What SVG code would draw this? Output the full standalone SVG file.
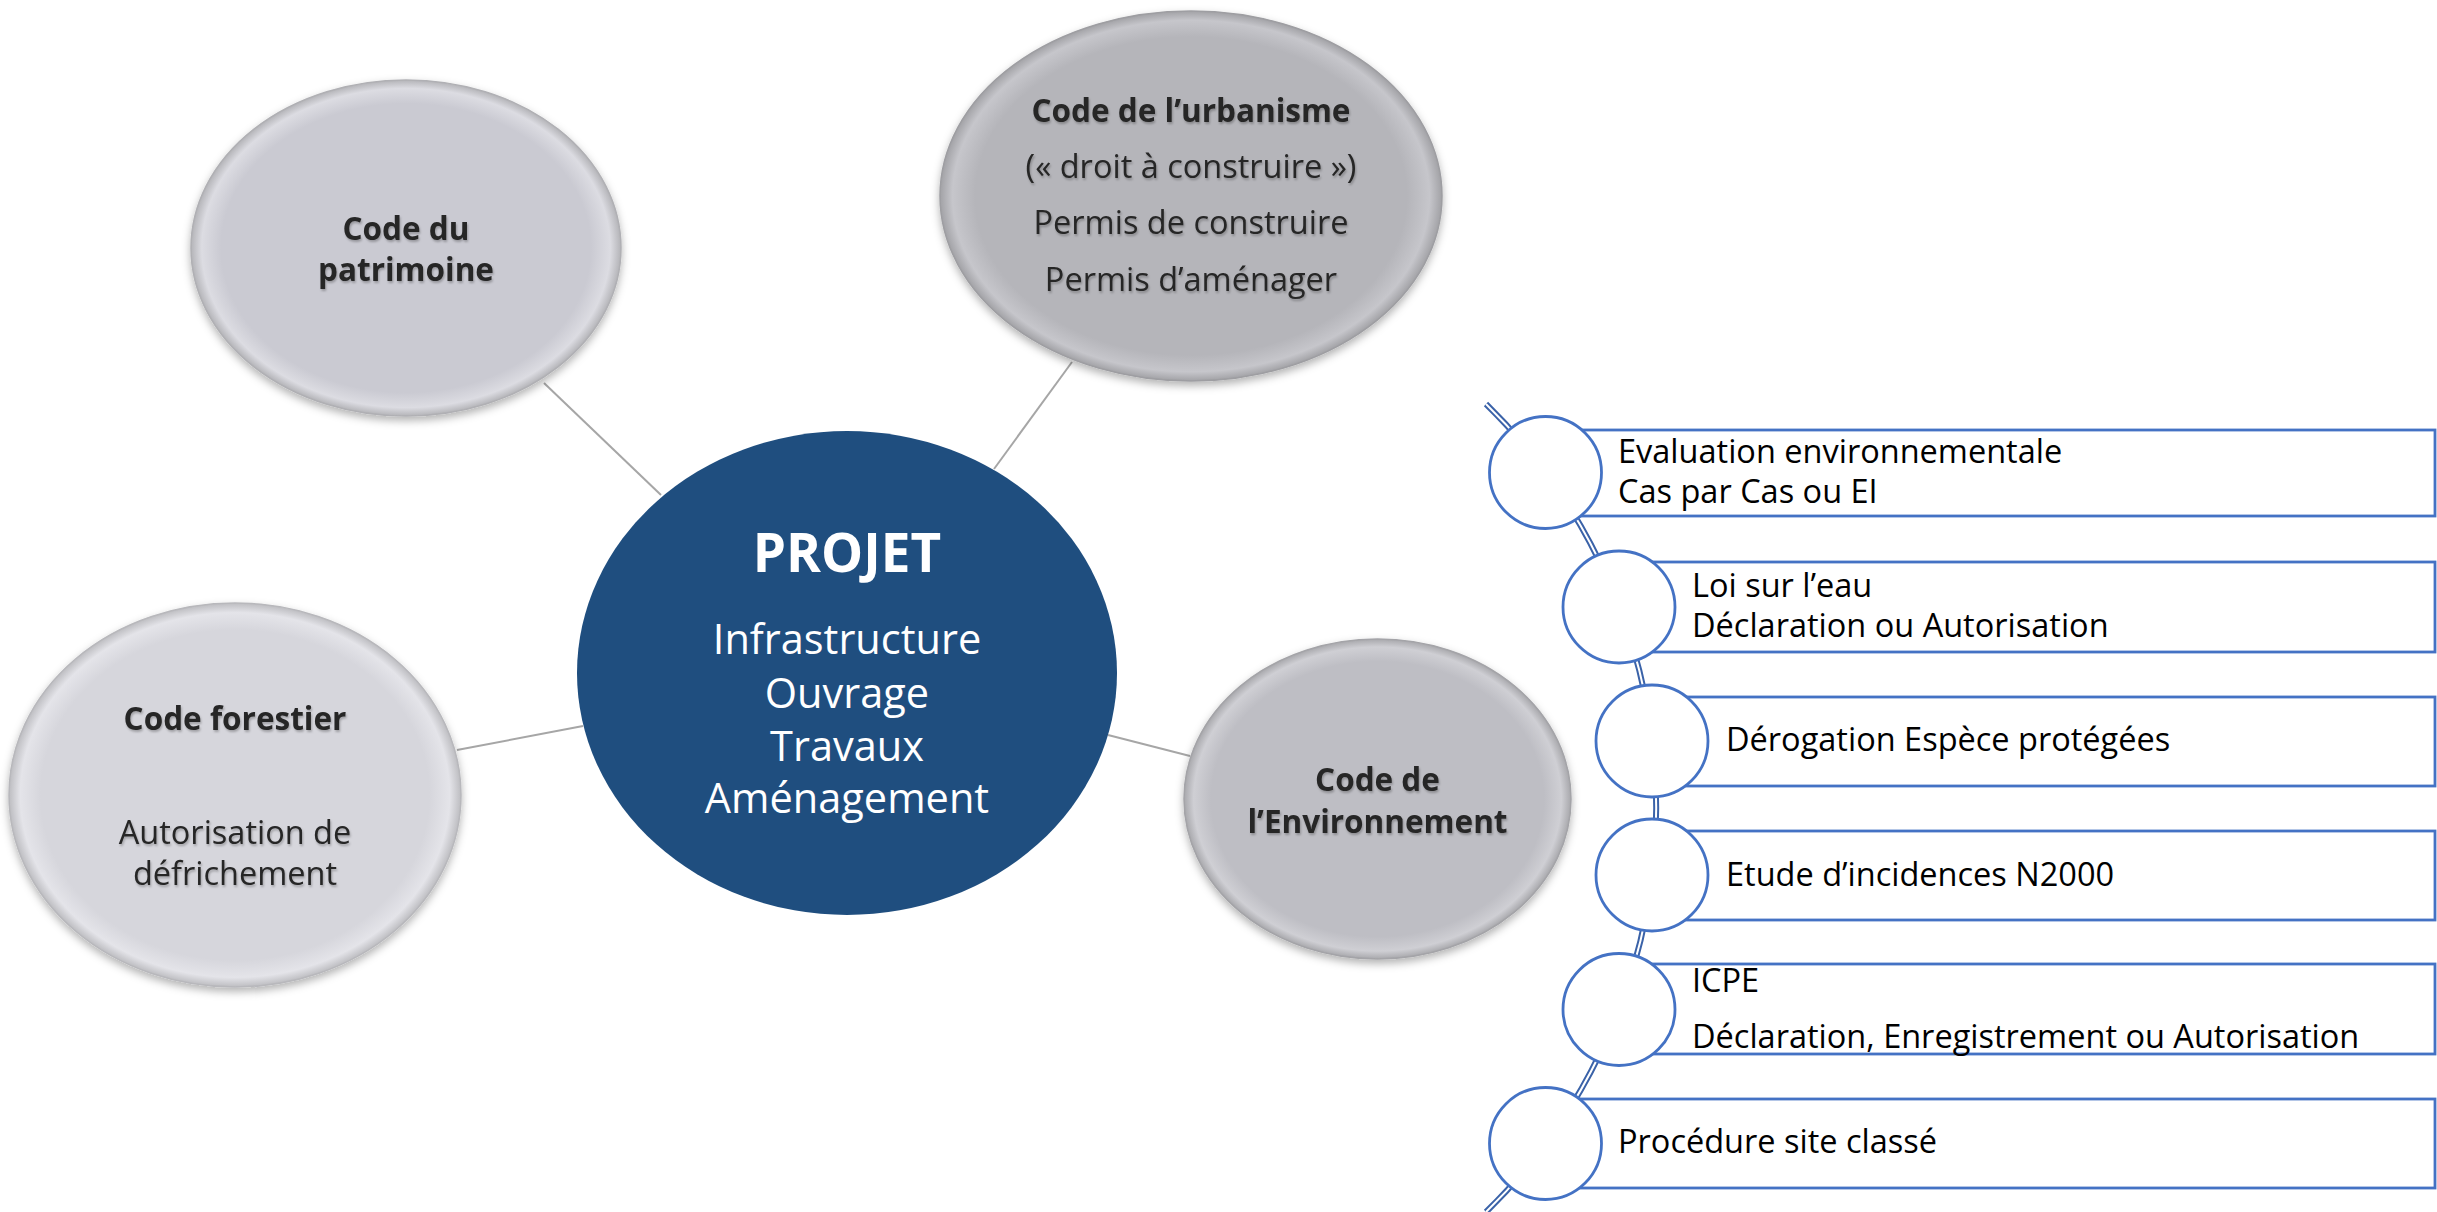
<svg xmlns="http://www.w3.org/2000/svg" width="2437" height="1212" viewBox="0 0 2437 1212">
<defs>
<style>
.lbl{font-family:"Open Sans","Liberation Sans",sans-serif;fill:#262626;text-anchor:middle}
.b{font-weight:bold}
.t31{font-size:31.5px}
.t32{font-size:32.5px}
.wht{font-family:"Open Sans","Liberation Sans",sans-serif;fill:#ffffff;text-anchor:middle}
.conn{stroke:#a6a6a6;stroke-width:2;fill:none}
.tl{font-family:"Open Sans","Liberation Sans",sans-serif;fill:#000;font-size:32.5px}
.box{fill:#ffffff;stroke:#4472c4;stroke-width:2.8}
.dot{fill:#ffffff;stroke:#4472c4;stroke-width:2.8}
</style>
<radialGradient id="gP" cx="50%" cy="50%" r="50%">
<stop offset="0" stop-color="#cacad2"/><stop offset="0.86" stop-color="#cacad2"/><stop offset="0.95" stop-color="#dcdce2"/><stop offset="1" stop-color="#b4b4b8"/>
</radialGradient>
<radialGradient id="gU" cx="50%" cy="50%" r="50%">
<stop offset="0" stop-color="#b5b5ba"/><stop offset="0.86" stop-color="#b5b5ba"/><stop offset="0.95" stop-color="#c6c6cb"/><stop offset="1" stop-color="#a2a2a6"/>
</radialGradient>
<radialGradient id="gF" cx="50%" cy="50%" r="50%">
<stop offset="0" stop-color="#d6d6dc"/><stop offset="0.86" stop-color="#d6d6dc"/><stop offset="0.95" stop-color="#e4e4e9"/><stop offset="1" stop-color="#bdbdc1"/>
</radialGradient>
<radialGradient id="gE" cx="50%" cy="50%" r="50%">
<stop offset="0" stop-color="#bebec4"/><stop offset="0.86" stop-color="#bebec4"/><stop offset="0.95" stop-color="#cfcfd4"/><stop offset="1" stop-color="#a8a8ac"/>
</radialGradient>
<filter id="sh" x="-10%" y="-10%" width="120%" height="125%">
<feDropShadow dx="0" dy="4" stdDeviation="4" flood-color="#000" flood-opacity="0.3"/>
</filter>
<filter id="tsh" x="-5%" y="-20%" width="110%" height="150%">
<feDropShadow dx="1" dy="2" stdDeviation="1.2" flood-color="#000" flood-opacity="0.25"/>
</filter>
</defs>
<rect width="2437" height="1212" fill="#ffffff"/>

<g id="connectors">
<line class="conn" x1="544" y1="383" x2="661" y2="495"/>
<line class="conn" x1="1072" y1="362" x2="994" y2="469"/>
<line class="conn" x1="457" y1="750" x2="583" y2="726"/>
<line class="conn" x1="1108" y1="735" x2="1190" y2="756"/>
</g>

<g id="node-patrimoine">
<ellipse cx="406" cy="248" rx="215" ry="168" fill="url(#gP)" stroke="#b0b0b4" stroke-width="1.5" filter="url(#sh)"/>
<g filter="url(#tsh)">
<text class="lbl b t31" x="406" y="240">Code du</text>
<text class="lbl b t31" x="406" y="281">patrimoine</text>
</g>
</g>

<g id="node-urbanisme">
<ellipse cx="1191" cy="196" rx="251" ry="185" fill="url(#gU)" stroke="#9e9ea2" stroke-width="1.5" filter="url(#sh)"/>
<g filter="url(#tsh)">
<text class="lbl b t31" x="1191" y="122">Code de l’urbanisme</text>
<text class="lbl t32" x="1191" y="178">(« droit à construire »)</text>
<text class="lbl t32" x="1191" y="234">Permis de construire</text>
<text class="lbl t32" x="1191" y="291">Permis d’aménager</text>
</g>
</g>

<g id="node-forestier">
<ellipse cx="235" cy="795" rx="226" ry="192" fill="url(#gF)" stroke="#b8b8bc" stroke-width="1.5" filter="url(#sh)"/>
<g filter="url(#tsh)">
<text class="lbl b t31" x="235" y="730">Code forestier</text>
<text class="lbl t32" x="235" y="844">Autorisation de</text>
<text class="lbl t32" x="235" y="885">défrichement</text>
</g>
</g>

<g id="node-environnement">
<ellipse cx="1377.5" cy="799" rx="193.5" ry="160" fill="url(#gE)" stroke="#a4a4a8" stroke-width="1.5" filter="url(#sh)"/>
<g filter="url(#tsh)">
<text class="lbl b t31" x="1377.5" y="790.5">Code de</text>
<text class="lbl b t31" x="1377.5" y="833">l’Environnement</text>
</g>
</g>

<g id="node-projet">
<ellipse cx="847" cy="673" rx="270" ry="242" fill="#1f4e7f"/>
<text class="wht b" font-size="53" x="847" y="572">PROJET</text>
<text class="wht" font-size="41.5" x="847" y="654">Infrastructure</text>
<text class="wht" font-size="41.5" x="847" y="708">Ouvrage</text>
<text class="wht" font-size="41.5" x="847" y="761">Travaux</text>
<text class="wht" font-size="41.5" x="847" y="813">Aménagement</text>
</g>

<g id="timeline-spine">
<path d="M 1486 404 A 564.6 564.6 0 0 1 1486 1212" fill="none" stroke="#3a62a8" stroke-width="6"/>
<path d="M 1486 404 A 564.6 564.6 0 0 1 1486 1212" fill="none" stroke="#ffffff" stroke-width="2"/>
</g>

<g id="step-1">
<rect class="box" x="1545" y="430" width="890" height="86"/>
<circle class="dot" cx="1545.5" cy="472.5" r="56"/>
<text class="tl" x="1618" y="463">Evaluation environnementale</text>
<text class="tl" x="1618" y="503">Cas par Cas ou EI</text>
</g>
<g id="step-2">
<rect class="box" x="1619" y="562" width="816" height="90"/>
<circle class="dot" cx="1619" cy="607" r="56"/>
<text class="tl" x="1692" y="597">Loi sur l’eau</text>
<text class="tl" x="1692" y="637">Déclaration ou Autorisation</text>
</g>
<g id="step-3">
<rect class="box" x="1652" y="697" width="783" height="89"/>
<circle class="dot" cx="1652" cy="741" r="56"/>
<text class="tl" x="1726" y="751">Dérogation Espèce protégées</text>
</g>
<g id="step-4">
<rect class="box" x="1652" y="831" width="783" height="89"/>
<circle class="dot" cx="1652" cy="875" r="56"/>
<text class="tl" x="1726" y="886">Etude d’incidences N2000</text>
</g>
<g id="step-5">
<rect class="box" x="1619" y="964" width="816" height="90"/>
<circle class="dot" cx="1619" cy="1009.5" r="56"/>
<text class="tl" x="1692" y="992">ICPE</text>
<text class="tl" x="1692" y="1048">Déclaration, Enregistrement ou Autorisation</text>
</g>
<g id="step-6">
<rect class="box" x="1545" y="1099" width="890" height="89"/>
<circle class="dot" cx="1545.5" cy="1143.5" r="56"/>
<text class="tl" x="1618" y="1153">Procédure site classé</text>
</g>
</svg>
